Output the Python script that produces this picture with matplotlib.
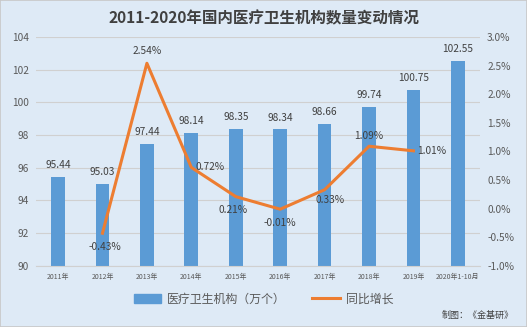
import matplotlib
matplotlib.use("Agg")
import matplotlib.pyplot as plt
from matplotlib.patches import Rectangle
from matplotlib.lines import Line2D

plt.rcParams['font.family'] = ['Noto Sans CJK SC', 'DejaVu Sans']

categories = ["2011年", "2012年", "2013年", "2014年", "2015年", "2016年", "2017年", "2018年", "2019年", "2020年1-10月"]
institutions = [95.44, 95.03, 97.44, 98.14, 98.35, 98.34, 98.66, 99.74, 100.75, 102.55]
growth_years = ["2012年", "2013年", "2014年", "2015年", "2016年", "2017年", "2018年", "2019年"]
growth = [-0.43, 2.54, 0.72, 0.21, -0.01, 0.33, 1.09, 1.01]

bg = "#DEEAF6"
bar_c = "#5B9BD5"
line_c = "#ED7D31"
txt = "#404040"
tick_c = "#595959"

fig = plt.figure(figsize=(5.27, 3.27), dpi=100, facecolor=bg)
fig.patches.append(Rectangle((0, 0), 1, 1, transform=fig.transFigure, fill=False,
                             edgecolor="#C8C8C8", linewidth=1.2))
ax = fig.add_axes([0.068, 0.187, 0.843, 0.70])
ax.set_facecolor(bg)
x = list(range(len(categories)))
bars = ax.bar(x, institutions, width=0.31, color=bar_c, zorder=2)
ax.set_ylim(90, 104)
ax.set_xlim(-0.5, len(categories) - 0.5)
ax.set_yticks([90, 92, 94, 96, 98, 100, 102, 104])
ax.yaxis.grid(True, color="#D0D0D0", linewidth=0.8, zorder=0)
ax.set_axisbelow(True)
for s in ["top", "right", "left"]:
    ax.spines[s].set_visible(False)
ax.spines["bottom"].set_color("#D0D0D0")
ax.tick_params(axis="y", length=0, labelsize=7.3, labelcolor=tick_c, pad=5)
ax.tick_params(axis="x", length=0, labelsize=5, labelcolor=tick_c, pad=5)
ax.set_xticks(x)
ax.set_xticklabels(categories)
for xi, v in zip(x, institutions):
    ax.annotate(f"{v:.2f}", (xi, v), xytext=(0, 5), textcoords="offset points",
                ha="center", va="bottom", fontsize=7.3, color=txt)

ax2 = ax.twinx()
ax2.set_ylim(-1.0, 3.0)
ax2.set_yticks([-1.0, -0.5, 0.0, 0.5, 1.0, 1.5, 2.0, 2.5, 3.0])
ax2.set_yticklabels([f"{t:.1f}%" for t in [-1.0, -0.5, 0.0, 0.5, 1.0, 1.5, 2.0, 2.5, 3.0]])
for s in ["top", "right", "left", "bottom"]:
    ax2.spines[s].set_visible(False)
ax2.tick_params(axis="y", length=0, labelsize=7.3, labelcolor=tick_c, pad=5)
gx = [categories.index(c) for c in growth_years]
ax2.plot(gx, growth, color=line_c, linewidth=2.2, zorder=3)
offsets = [(2, -6, "center", "top"), (0, 5, "center", "bottom"), (3, 0, "left", "center"),
           (-2, -6, "center", "top"), (0, -6, "center", "top"), (4, -4, "center", "top"),
           (0, 4, "center", "bottom"), (3, 0, "left", "center")]
for xi, v, (dx, dy, ha, va) in zip(gx, growth, offsets):
    ax2.annotate(f"{v:.2f}%", (xi, v), xytext=(dx, dy), textcoords="offset points",
                 ha=ha, va=va, fontsize=7.3, color=txt)

fig.text(0.5, 0.945, "2011-2020年国内医疗卫生机构数量变动情况", ha="center", va="center",
         fontsize=11.2, fontweight="bold", color=txt)

handles = [Rectangle((0, 0), 1, 1, color=bar_c), Line2D([0], [0], color=line_c, linewidth=2.2)]
fig.legend(handles, ["医疗卫生机构（万个）", "同比增长"], loc="center", bbox_to_anchor=(0.5, 0.085),
           ncol=2, frameon=False, fontsize=8.6, labelcolor=tick_c, handlelength=2.3,
           handleheight=0.8, handletextpad=0.5, columnspacing=2.2)
fig.text(0.975, 0.035, "制图：《金基研》", ha="right", va="center", fontsize=6.5, color=txt)

fig.savefig("out.png", dpi=100, facecolor=bg)
